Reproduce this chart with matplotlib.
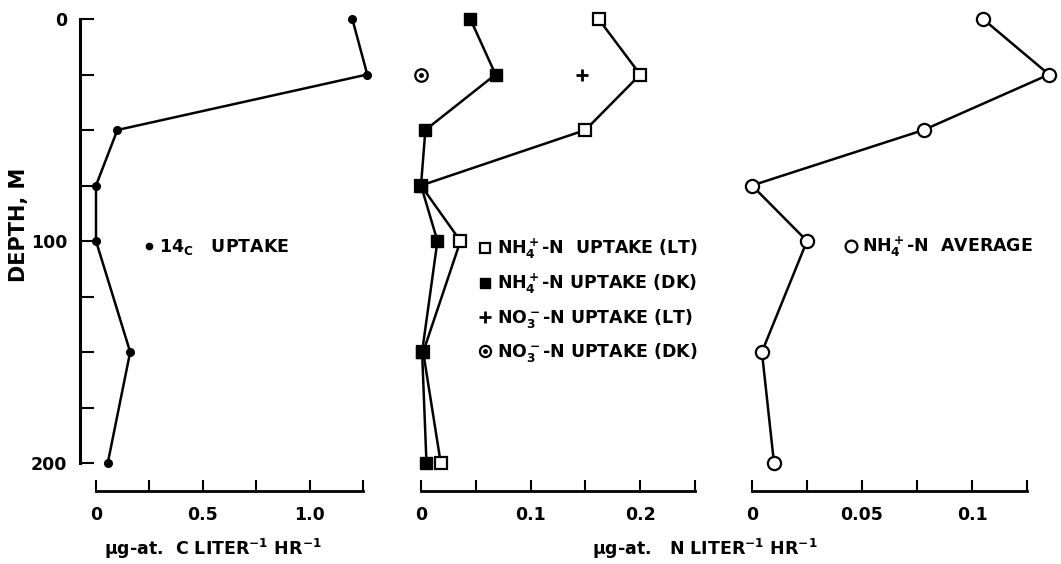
import matplotlib
matplotlib.use('Agg')
import matplotlib.pyplot as plt
from matplotlib.lines import Line2D

# depth profiles (m)
depth = [0, 25, 50, 75, 100, 150, 200]
c14_uptake = [1.20, 1.27, 0.10, 0.0, 0.0, 0.16, 0.055]
nh4_lt = [0.162, 0.200, 0.150, 0.0, 0.036, 0.002, 0.018]
nh4_dk = [0.045, 0.068, 0.004, 0.0, 0.015, 0.001, 0.005]
no3_depth = [25]
no3_lt = [0.147]
no3_dk = [0.0]
nh4_avg = [0.105, 0.135, 0.078, 0.0, 0.025, 0.0045, 0.010]

W, H = 1061, 564
plt.rcParams['font.family'] = ['DejaVu Sans']
plt.rcParams['font.weight'] = 'bold'
plt.rcParams['mathtext.fontset'] = 'custom'
plt.rcParams['mathtext.rm'] = 'DejaVu Sans:bold'
plt.rcParams['mathtext.it'] = 'DejaVu Sans:italic:bold'
plt.rcParams['mathtext.default'] = 'regular'
FS = 12.5
fig = plt.figure(figsize=(W / 100, H / 100), dpi=100)

TOP, BOT = 10, 491          # axes top/bottom in px
Y0, YPX = 19, 2.22          # depth 0 at px 19, px per metre


def make_ax(left, right, x0, pxu, xmax, step, labels, yaxis=False):
    ax = fig.add_axes([left / W, 1 - BOT / H, (right - left) / W, (BOT - TOP) / H])
    ax.set_xlim((left - x0) / pxu, (right - x0) / pxu)
    ax.set_ylim((BOT - Y0) / YPX, (TOP - Y0) / YPX)
    for s in ['top', 'right']:
        ax.spines[s].set_visible(False)
    ax.spines['bottom'].set_bounds(0, xmax)
    ax.spines['bottom'].set_linewidth(2)
    n = int(round(xmax / step))
    ax.set_xticks([i * step for i in range(n + 1)])
    ax.set_xticklabels(labels)
    ax.tick_params(axis='x', direction='in', length=8, width=1.5, pad=11, labelsize=FS)
    if yaxis:
        ax.spines['left'].set_bounds(0, 200)
        ax.spines['left'].set_linewidth(2.2)
        ax.set_yticks(range(0, 201, 25))
        ax.set_yticklabels(['0', '', '', '', '100', '', '', '', '200'])
        ax.tick_params(axis='y', direction='in', length=10, width=1.5, pad=9, labelsize=FS)
    else:
        ax.spines['left'].set_visible(False)
        ax.set_yticks([])
    return ax


# --- 14C uptake
ax1 = make_ax(80, 380, 96, 213.6, 1.25, 0.25, ['0', '', '0.5', '', '1.0', ''], yaxis=True)
ax1.plot(c14_uptake, depth, color='black', lw=1.8, marker='o', ms=5.5, clip_on=False)
ax1.legend(handles=[Line2D([], [], ls='none', marker='o', ms=4.5, color='black')],
           labels=[r'$14_C$   UPTAKE'], loc='center left', frameon=False,
           bbox_to_anchor=(145 / W, 1 - 247 / H), bbox_transform=fig.transFigure,
           fontsize=FS, handlelength=0.5, handletextpad=0.3, borderpad=0, borderaxespad=0)
fig.text(19 / W, 1 - 225 / H, 'DEPTH, M', rotation=90, fontsize=15,
         fontweight='bold', ha='center', va='center')

# --- NH4 / NO3 uptake
ax2 = make_ax(410, 720, 421, 1096, 0.25, 0.05, ['0', '', '0.1', '', '0.2', ''])
ax2.plot(nh4_lt, depth, color='black', lw=1.8, marker='s', ms=8, mfc='white', mew=1.6,
         clip_on=False, zorder=3)
ax2.plot(nh4_dk, depth, color='black', lw=1.8, marker='s', ms=8.5, clip_on=False, zorder=4)
ax2.plot(no3_lt, no3_depth, ls='none', marker='+', ms=8, mew=2, color='black')
ax2.plot(no3_dk, no3_depth, ls='none', marker='o', ms=9, mfc='white', mew=1.6, color='black')
ax2.plot(no3_dk, no3_depth, ls='none', marker='o', ms=2.5, color='black')
h_lt = Line2D([], [], ls='none', marker='s', ms=7, mfc='white', mew=1.6, color='black')
h_dk = Line2D([], [], ls='none', marker='s', ms=7.5, color='black')
h_no3l = Line2D([], [], ls='none', marker='+', ms=8, mew=2, color='black')
h_no3d = (Line2D([], [], ls='none', marker='o', ms=8, mfc='white', mew=1.6, color='black'),
          Line2D([], [], ls='none', marker='o', ms=2.5, color='black'))
ax2.legend(handles=[h_lt, h_dk, h_no3l, h_no3d],
           labels=[r'NH$_4^+$-N  UPTAKE (LT)', r'NH$_4^+$-N UPTAKE (DK)',
                   r'NO$_3^-$-N UPTAKE (LT)', r'NO$_3^-$-N UPTAKE (DK)'],
           loc='upper left', frameon=False, fontsize=FS,
           bbox_to_anchor=(479 / W, 1 - 237 / H), bbox_transform=fig.transFigure,
           handlelength=0.7, handletextpad=0.35, labelspacing=0.62, borderpad=0, borderaxespad=0)

# --- NH4 average
ax3 = make_ax(740, 1061, 752, 2200, 0.125, 0.025, ['0', '', '0.05', '', '0.1', ''])
ax3.plot(nh4_avg, depth, color='black', lw=1.8, marker='o', ms=9.5, mfc='white', mew=1.6,
         clip_on=False)
ax3.legend(handles=[Line2D([], [], ls='none', marker='o', ms=8.5, mfc='white', mew=1.6, color='black')],
           labels=[r'NH$_4^+$-N  AVERAGE'], loc='center left', frameon=False, fontsize=FS,
           bbox_to_anchor=(845 / W, 1 - 247 / H), bbox_transform=fig.transFigure,
           handlelength=0.7, handletextpad=0.3, borderpad=0, borderaxespad=0)

fig.text(213 / W, 1 - 549 / H, r'$\mu g$-at.  C LITER$^{-1}$ HR$^{-1}$', ha='center', va='center',
         fontsize=FS)
fig.text(705 / W, 1 - 549 / H, r'$\mu g$-at.   N LITER$^{-1}$ HR$^{-1}$', ha='center', va='center',
         fontsize=FS)

fig.savefig('out.png', dpi=100)
